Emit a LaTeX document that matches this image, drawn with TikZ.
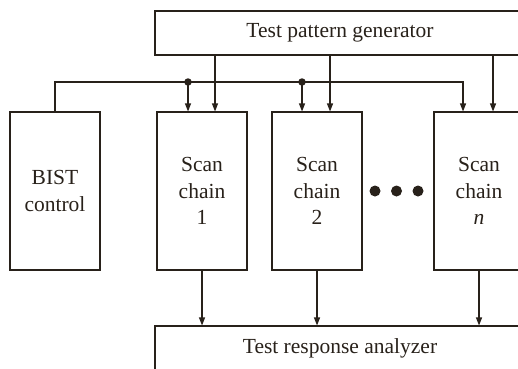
\documentclass[tikz,border=0pt]{standalone}
\usepackage{fontspec}
\setmainfont{Liberation Serif}
\usetikzlibrary{arrows.meta,calc}
\definecolor{ink}{RGB}{40,33,26}
\begin{document}
\begin{tikzpicture}[x=1pt,y=-1pt,
  every node/.style={font=\fontsize{21.5}{26.5}\selectfont, text=ink},
  blk/.style={draw=ink, line width=1.1pt, inner sep=0pt, align=center},
  wide/.style={blk, minimum width=370pt, minimum height=44pt},
  tall/.style={blk, minimum width=90pt, minimum height=158pt},
  arr/.style={draw=ink, line width=1.1pt, -{Triangle[length=8pt,width=6pt]}},
  jdot/.style={circle, fill=ink, inner sep=0pt, minimum size=7.5pt},
  bigdot/.style={circle, fill=ink, inner sep=0pt, minimum size=11pt}]
\clip (0,0) rectangle (518,368);
\fill[white] (0,0) rectangle (518,368);
\node[wide] (tpg) at (340,33) {Test pattern generator};
\node[wide] (tra) at (340,348) {Test response analyzer};
\node[tall] (bist) at (55,191) {BIST\\control};
\node[tall] (sc1) at (202,191) {Scan\\chain\\1};
\node[tall] (sc2) at (317,191) {Scan\\chain\\2};
\node[tall] (scn) at (479,191) {Scan\\chain\\\textit{n}};
\node[bigdot] (d1) at (375,191) {};
\node[bigdot] (d2) at (396.5,191) {};
\node[bigdot] (d3) at (418,191) {};
% TPG to scan chains
\draw[arr] ([xshift=13pt]sc1.north |- tpg.south) -- ([xshift=13pt]sc1.north);
\draw[arr] ([xshift=13pt]sc2.north |- tpg.south) -- ([xshift=13pt]sc2.north);
\draw[arr] ([xshift=14pt]scn.north |- tpg.south) -- ([xshift=14pt]scn.north);
% control bus
\coordinate (bus) at (55,82);
\draw[arr] (bist.north) -- (bus) -| ([xshift=-16pt]scn.north);
\node[jdot] (j1) at (188,82) {};
\node[jdot] (j2) at (302,82) {};
\draw[arr] (j1.center) -- (j1.center |- sc1.north);
\draw[arr] (j2.center) -- (j2.center |- sc2.north);
% outputs
\draw[arr] (sc1.south) -- (sc1.south |- tra.north);
\draw[arr] (sc2.south) -- (sc2.south |- tra.north);
\draw[arr] (scn.south) -- (scn.south |- tra.north);
\end{tikzpicture}
\end{document}
